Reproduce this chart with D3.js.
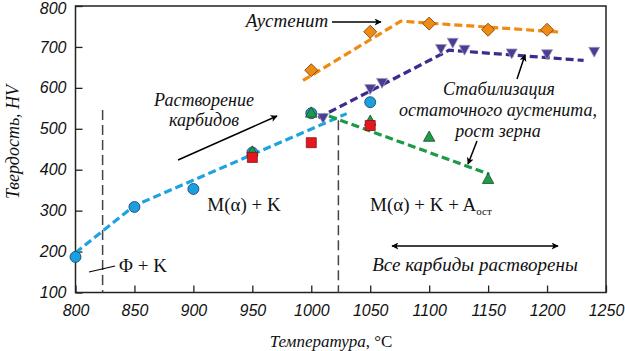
<!DOCTYPE html>
<html><head><meta charset="utf-8">
<script src="https://cdn.jsdelivr.net/npm/d3@7"></script>
<style>body{margin:0;background:#fff}svg{display:block}</style>
</head><body>
<svg id="c" width="625" height="351"></svg>
<script>
// ---- data ----
const xTicks = [800, 850, 900, 950, 1000, 1050, 1100, 1150, 1200, 1250];
const yTicks = [100, 200, 300, 400, 500, 600, 700, 800];
const blueT = [800, 850, 900, 950, 1000, 1050];
const blueV = [187, 309, 353, 442, 538, 565];
const greenT = [950, 1000, 1050, 1100, 1150];
const greenV = [446, 541, 521, 482, 379];
const redT = [950, 1000, 1050];
const redV = [430, 466, 508];
const orangeT = [1000, 1050, 1100, 1150, 1200];
const orangeV = [643, 737, 757, 742, 742];
const purpleT = [1010, 1050, 1060, 1110, 1120, 1130, 1170, 1200, 1240];
const purpleV = [525, 596, 611, 694, 709, 692, 683, 681, 687];
// trend lines
const blueLineT = [800, 850, 1030];
const blueLineV = [197, 312, 537];
const orangeLineT = [993, 1076, 1212];
const orangeLineV = [618, 763, 736];
const purpleLineT = [1006, 1117, 1231];
const purpleLineV = [527, 692, 667];
const greenLineT = [1015, 1151];
const greenLineV = [531, 389];
const phaseT = [823, 1023];
const phaseTop = [546, 521];

const svg = d3.select("#c");
const x = d3.scaleLinear().domain([800, 1250]).range([75.5, 606]);
const y = d3.scaleLinear().domain([100, 800]).range([292.5, 6]);

const defs = svg.append("defs");
defs.append("marker").attr("id", "ah").attr("viewBox", "0 0 10 10")
  .attr("refX", 9).attr("refY", 5).attr("markerWidth", 11).attr("markerHeight", 7)
  .attr("markerUnits", "userSpaceOnUse").attr("orient", "auto-start-reverse")
  .append("path").attr("d", "M0,0 L10,5 L0,10 L2.5,5 Z").attr("fill", "#000");

// frame
svg.append("rect").attr("x", x(800)).attr("y", y(800))
  .attr("width", x(1250) - x(800)).attr("height", y(100) - y(800))
  .attr("fill", "none").attr("stroke", "#222").attr("stroke-width", 1.5);

// axes
const xAxis = d3.axisBottom(x).tickValues(xTicks).tickSize(-7).tickPadding(8).tickFormat(d3.format("d"));
const gx = svg.append("g").attr("transform", `translate(0,${y(100)})`).call(xAxis);
const yAxis = d3.axisLeft(y).tickValues(yTicks).tickSize(-7).tickPadding(9).tickFormat(d3.format("d"));
const gy = svg.append("g").attr("transform", `translate(${x(800)},0)`).call(yAxis);
[gx, gy].forEach(g => {
  g.select(".domain").remove();
  g.selectAll(".tick line").attr("stroke", "#222").attr("stroke-width", 1.3);
  g.selectAll(".tick text").attr("fill", "#111")
    .style("font-family", "'Liberation Sans', Arial, sans-serif")
    .style("font-style", "italic").style("font-size", "16px");
});
gx.selectAll(".tick text").attr("dy", "0.95em");
gy.selectAll(".tick text").attr("dy", (d) => d === 800 ? "0.45em" : "0.32em");

// phase boundaries
svg.selectAll("line.phase").data(phaseT).join("line").attr("class", "phase")
  .attr("x1", d => x(d)).attr("x2", d => x(d))
  .attr("y1", (d, i) => y(phaseTop[i])).attr("y2", y(100))
  .attr("stroke", "#444").attr("stroke-width", 1.5).attr("stroke-dasharray", "10,5");

// trend lines
const line = d3.line().x(d => x(d[0])).y(d => y(d[1]));
function trend(T, V, color) {
  svg.append("path").datum(T.map((t, i) => [t, V[i]])).attr("d", line)
    .attr("fill", "none").attr("stroke", color).attr("stroke-width", 3.2)
    .attr("stroke-dasharray", "8,4");
}
trend(blueLineT, blueLineV, "#1fa3e0");
trend(orangeLineT, orangeLineV, "#f08a10");
trend(purpleLineT, purpleLineV, "#3a2d8f");
trend(greenLineT, greenLineV, "#1c9a45");

// markers
function pts(T, V, type, size, fill, stroke) {
  svg.append("g").selectAll("path").data(T.map((t, i) => [t, V[i]])).join("path")
    .attr("transform", d => `translate(${x(d[0])},${y(d[1])})`)
    .attr("d", d3.symbol().type(type).size(size))
    .attr("fill", fill).attr("stroke", stroke).attr("stroke-width", 0.8);
}
const triDown = { draw(ctx, size) { const s = Math.sqrt(size); const h = s * 0.9;
  ctx.moveTo(-s / 2, -h / 2); ctx.lineTo(s / 2, -h / 2); ctx.lineTo(0, h / 2); ctx.closePath(); } };
const triUp = { draw(ctx, size) { const s = Math.sqrt(size); const h = s * 0.9;
  ctx.moveTo(-s / 2, h / 2); ctx.lineTo(s / 2, h / 2); ctx.lineTo(0, -h / 2); ctx.closePath(); } };
const diamond = { draw(ctx, size) { const r = Math.sqrt(size) / 2;
  ctx.moveTo(0, -r); ctx.lineTo(r, 0); ctx.lineTo(0, r); ctx.lineTo(-r, 0); ctx.closePath(); } };
pts(blueT, blueV, d3.symbolCircle, 95, "#1a9fe0", "#1a3a5a");
pts(greenT, greenV, triUp, 130, "#1e9a48", "#1a4a2a");
pts(redT, redV, d3.symbolSquare, 100, "#e8151f", "#7a1a1a");
pts(orangeT, orangeV, diamond, 170, "#ef8a12", "#6a3a0a");
pts(purpleT, purpleV, triDown, 120, "#4a3d98", "#9a9ab0");

// text helpers
const serif = "'Liberation Serif', 'DejaVu Serif', 'Times New Roman', serif";
function txt(xp, yp, s, opts = {}) {
  return svg.append("text").attr("x", xp).attr("y", yp).text(s)
    .style("font-family", serif).style("font-size", (opts.size || 19) + "px")
    .style("font-style", opts.italic ? "italic" : "normal")
    .attr("text-anchor", opts.anchor || "middle").attr("fill", "#111");
}
function arrow(x1, y1, x2, y2, both) {
  const l = svg.append("line").attr("x1", x1).attr("y1", y1).attr("x2", x2).attr("y2", y2)
    .attr("stroke", "#000").attr("stroke-width", 1.5).attr("marker-end", "url(#ah)");
  if (both) l.attr("marker-start", "url(#ah)");
}

// annotations
txt(287, 27, "Аустенит", { italic: true });
arrow(332, 22, 381, 22);
txt(204, 106, "Растворение", { italic: true, size: 18 });
txt(204, 126, "карбидов", { italic: true, size: 18 });
arrow(178, 160, 277, 116);
txt(499, 95, "Стабилизация", { italic: true, size: 18 });
txt(498, 116, "остаточного аустенита,", { italic: true, size: 18 });
txt(498, 137, "рост зерна", { italic: true, size: 18 });
arrow(517, 79, 525, 55);
arrow(477, 141, 468, 164);
txt(244, 211, "M(α) + K", { size: 19 });
const t2 = txt(370, 211, "M(α) + K + A", { size: 19, anchor: "start" });
t2.append("tspan").attr("dy", 4).style("font-size", "11px").text("ост");
txt(143, 272, "Φ + K", { size: 19 });
svg.append("line").attr("x1", 89).attr("y1", 272).attr("x2", 115).attr("y2", 266)
  .attr("stroke", "#000").attr("stroke-width", 1.2);
arrow(392, 246, 558, 246, true);
txt(475, 271, "Все карбиды растворены", { italic: true });

// axis titles
const xt = txt(331, 347, "Температура", { italic: true, size: 17 });
xt.append("tspan").style("font-style", "normal").text(", °C");
svg.append("text").attr("transform", "translate(19,142) rotate(-90)")
  .attr("text-anchor", "middle").style("font-family", serif).style("font-size", "18px")
  .style("font-style", "italic").attr("fill", "#111").text("Твердость, HV");
</script>
</body></html>
